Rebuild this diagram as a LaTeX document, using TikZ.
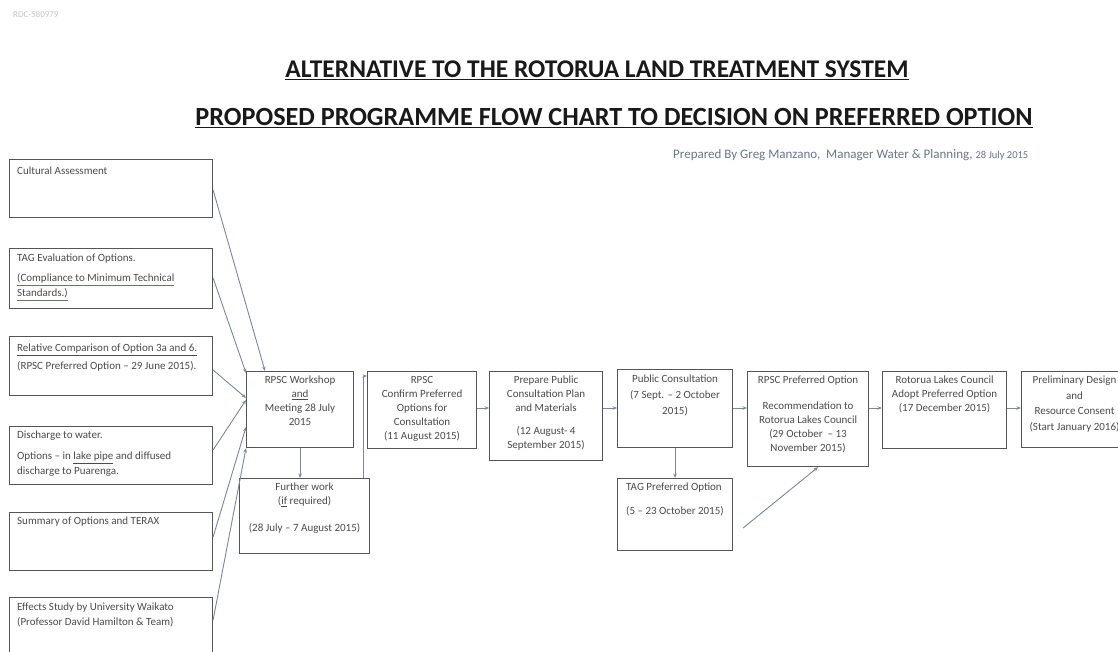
\documentclass[tikz,border=0pt]{standalone}
\usepackage{fontspec}
\setmainfont{Carlito}
\usetikzlibrary{arrows.meta}
\definecolor{textc}{RGB}{75,75,75}
\definecolor{boxc}{RGB}{85,85,85}
\definecolor{linec}{RGB}{120,135,165}
\definecolor{titc}{RGB}{25,25,25}
\definecolor{prepc}{RGB}{105,118,140}
\definecolor{ulg}{RGB}{90,130,80}
\newcommand\gul[1]{\textcolor{ulg}{\underline{\textcolor{textc}{#1}}}}
\begin{document}
\begin{tikzpicture}[x=1pt,y=-1pt,
  box/.style={draw=boxc,line width=1.1pt,anchor=north west,inner sep=0pt},
  ltxt/.style={anchor=north west,inner sep=0pt,align=left,text=textc,font=\fontsize{11}{15}\selectfont},
  ctxt/.style={anchor=north,inner sep=0pt,align=center,text=textc,font=\fontsize{11}{14}\selectfont},
  conn/.style={draw=linec,line width=0.9pt,-{Stealth[length=4.5pt,width=3.5pt]}},
  titl/.style={inner sep=0pt,text=titc,font=\fontsize{25.5}{30}\selectfont\bfseries},
]
\useasboundingbox[fill=white] (0,0) rectangle (1118,652);
\clip (0,0) rectangle (1118,652);

% header
\node[anchor=west,inner sep=0pt,text=gray!45,font=\fontsize{9}{10}\selectfont] (docid) at (13,14) {RDC-580979};
\node[titl] (t1) at (597,70) {\underline{ALTERNATIVE TO THE ROTORUA LAND TREATMENT SYSTEM}};
\node[titl,font=\fontsize{26.2}{30}\selectfont\bfseries] (t2) at (614,118) {\underline{PROPOSED PROGRAMME FLOW CHART TO DECISION ON PREFERRED OPTION}};
\node[anchor=west,inner sep=0pt,text=prepc,font=\fontsize{13}{15}\selectfont] (prepby) at (673,155)
  {Prepared By Greg Manzano,\ \ Manager Water \& Planning, {\fontsize{10.5}{12}\selectfont 28 July 2015}};

% left column boxes
\node[box,minimum width=203pt,minimum height=58pt] (cult) at (9,159) {};
\node[box,minimum width=203pt,minimum height=60pt] (tage) at (9,248) {};
\node[box,minimum width=203pt,minimum height=59pt] (rel) at (9,336) {};
\node[box,minimum width=203pt,minimum height=58pt] (dis) at (9,426) {};
\node[box,minimum width=203pt,minimum height=58pt] (sum) at (9,512) {};
\node[box,minimum width=203pt,minimum height=62pt] (eff) at (9,597) {};

\node[ltxt] (cultT) at ([xshift=8pt,yshift=-8pt]cult.north west) {Cultural Assessment};
\node[ltxt] (tageT) at ([xshift=8pt,yshift=-6pt]tage.north west)
  {TAG Evaluation of Options.\\[5pt]\gul{(Compliance to Minimum Technical}\\\gul{Standards.)}};
\node[ltxt] (relT) at ([xshift=8pt,yshift=-8pt]rel.north west)
  {\underline{Relative Comparison of Option 3a and 6.}\\[3pt](RPSC Preferred Option -- 29 June 2015).};
\node[ltxt] (disT) at ([xshift=8pt,yshift=-5pt]dis.north west)
  {Discharge to water.\\[6pt]Options -- in \underline{lake pipe} and diffused\\discharge to Puarenga.};
\node[ltxt] (sumT) at ([xshift=8pt,yshift=-5pt]sum.north west) {Summary of Options and TERAX};
\node[ltxt] (effT) at ([xshift=8pt,yshift=-6pt]eff.north west)
  {Effects Study by University Waikato\\(Professor David Hamilton \& Team)};

% main flow boxes
\node[box,minimum width=107pt,minimum height=76pt] (ws) at (246,371) {};
\node[box,minimum width=130pt,minimum height=75pt] (fw) at (239,478) {};
\node[box,minimum width=109pt,minimum height=77pt] (conf) at (367,371) {};
\node[box,minimum width=113pt,minimum height=89pt] (prep) at (489,371) {};
\node[box,minimum width=115pt,minimum height=78pt] (pub) at (617,369) {};
\node[box,minimum width=115pt,minimum height=72pt] (tagp) at (617,478) {};
\node[box,minimum width=121pt,minimum height=95pt] (rp) at (747,371) {};
\node[box,minimum width=124pt,minimum height=77pt] (rot) at (882,371) {};
\node[box,minimum width=106pt,minimum height=76pt] (pre) at (1021,371) {};

\node[ctxt] (wsT) at ([yshift=-5pt]ws.north) {RPSC Workshop\\\underline{and}\\Meeting 28 July\\2015};
\node[ctxt] (fwT) at ([yshift=-5pt]fw.north) {Further work\\(\underline{if} required)\\[13pt](28 July -- 7 August 2015)};
\node[ctxt] (confT) at ([yshift=-5pt]conf.north) {RPSC\\Confirm Preferred\\Options for\\Consultation\\(11 August 2015)};
\node[ctxt] (prepT) at ([yshift=-5pt]prep.north) {Prepare Public\\Consultation Plan\\and Materials\\[9pt](12 August- 4\\September 2015)};
\node[ctxt] (pubT) at ([yshift=-6pt]pub.north) {Public Consultation\\[2pt](7 Sept. -- 2 October\\[2pt]2015)};
\node[ltxt,font=\fontsize{11}{14}\selectfont] (tagpT) at ([xshift=9pt,yshift=-5pt]tagp.north west) {TAG Preferred Option\\[10pt](5 -- 23 October 2015)};
\node[ctxt] (rpT) at ([yshift=-5pt]rp.north) {RPSC Preferred Option\\[12pt]Recommendation to\\Rotorua Lakes Council\\(29 October\ \ -- 13\\November 2015)};
\node[ctxt] (rotT) at ([yshift=-5pt]rot.north) {Rotorua Lakes Council\\Adopt Preferred Option\\(17 December 2015)};
\node[ctxt] (preT) at ([yshift=-5pt]pre.north) {Preliminary Design\\[1.5pt]and\\[1.5pt]Resource Consent\\[1.5pt](Start January 2016)};

% connectors from the left column into the workshop
\draw[conn] ([yshift=-31pt]cult.north east) -- ([xshift=19pt]ws.north west);
\draw[conn] ([yshift=-30pt]tage.north east) -- ([yshift=-2pt]ws.north west);
\draw[conn] ([yshift=-34pt]rel.north east) -- ([yshift=-27pt]ws.north west);
\draw[conn] ([yshift=-24pt]dis.north east) -- ([yshift=-29pt]ws.north west);
\draw[conn] ([yshift=-25pt]sum.north east) -- ([yshift=-56pt]ws.north west);
\draw[conn] ([yshift=-23pt]eff.north east) -- (ws.south west);

% main flow
\draw[conn] (ws.south) -- (ws.south |- fw.north);
\draw[conn] ([xshift=-7pt]fw.north east) |- ([yshift=-5pt]conf.north west);
\coordinate (a1) at ([yshift=-37pt]conf.north east);
\draw[conn] (a1) -- (a1 -| prep.west);
\coordinate (a2) at ([yshift=-37pt]prep.north east);
\draw[conn] (a2) -- (a2 -| pub.west);
\coordinate (a3) at ([yshift=-39pt]pub.north east);
\draw[conn] (a3) -- (a3 -| rp.west);
\coordinate (a4) at ([yshift=-37pt]rp.north east);
\draw[conn] (a4) -- (a4 -| rot.west);
\coordinate (a5) at ([yshift=-37pt]rot.north east);
\draw[conn] (a5) -- (a5 -| pre.west);
\draw[conn] (pub.south) -- (pub.south |- tagp.north);
\coordinate (tpe) at ([xshift=10pt,yshift=-50pt]tagp.north east);
\draw[conn] (tpe) -- ([xshift=10pt]rp.south);
\end{tikzpicture}
\end{document}
